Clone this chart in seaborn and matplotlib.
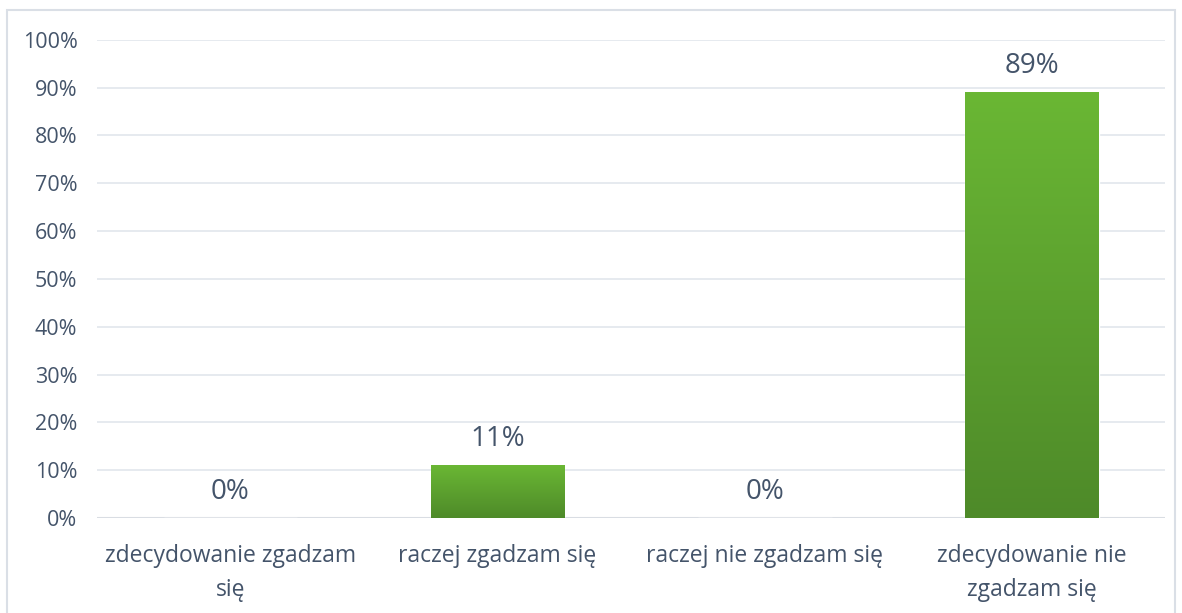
import numpy as np
import pandas as pd
import seaborn as sns
import matplotlib.pyplot as plt
from matplotlib.colors import LinearSegmentedColormap
from matplotlib.patches import Rectangle

# data
categories = ["zdecydowanie zgadzam\nsię", "raczej zgadzam się",
              "raczej nie zgadzam się", "zdecydowanie nie\nzgadzam się"]
values = [0, 11, 0, 89]
yticks = [0, 10, 20, 30, 40, 50, 60, 70, 80, 90, 100]

df = pd.DataFrame({"cat": categories, "val": values})

sns.set_theme(style="white")
plt.rcParams['font.family'] = ['Open Sans', 'DejaVu Sans']
txt = "#44546A"

fig = plt.figure(figsize=(11.82, 6.13), dpi=100)
ax = fig.add_axes([0.082, 0.155, 0.904, 0.78])

sns.barplot(data=df, x="cat", y="val", color="#5FA330", width=0.5, ax=ax,
            zorder=3)

# gradient fill inside each bar
cmap = LinearSegmentedColormap.from_list("g", ["#4E8A29", "#6AB734"])
grad = np.linspace(0, 1, 256).reshape(-1, 1)
for bar in ax.patches:
    x0, y0 = bar.get_x(), bar.get_y()
    w, h = bar.get_width(), bar.get_height()
    if h <= 0:
        continue
    im = ax.imshow(grad, cmap=cmap, origin="lower", aspect="auto",
                   extent=[x0, x0 + w, y0, y0 + h], zorder=4)
    im.set_clip_path(bar)

ax.set_xlim(-0.5, 3.5)
ax.set_ylim(0, 100)
ax.set_yticks(yticks)
ax.set_yticklabels([f"{t}%" for t in yticks], color=txt, fontsize=15.5)
ax.set_xticklabels(categories, color=txt, fontsize=16.5, linespacing=1.55)
ax.grid(axis="y", color="#E2E6EC", linewidth=1.2, zorder=0)
ax.tick_params(axis="x", length=0, pad=19)
ax.tick_params(axis="y", length=0, pad=14)
ax.set_xlabel("")
ax.set_ylabel("")
for s in ax.spines.values():
    s.set_visible(False)
ax.axhline(0, color="#D9DDE3", linewidth=1.5, zorder=2)

for i, v in enumerate(values):
    ax.text(i, v + 2.5, f"{v}%", ha="center", va="bottom", color=txt,
            fontsize=20)

fig.patches.append(Rectangle((0.006, -0.01), 0.988, 0.993,
                             transform=fig.transFigure, fill=False,
                             edgecolor="#DADFE6", linewidth=1.5))

fig.savefig("out.png", dpi=100)
